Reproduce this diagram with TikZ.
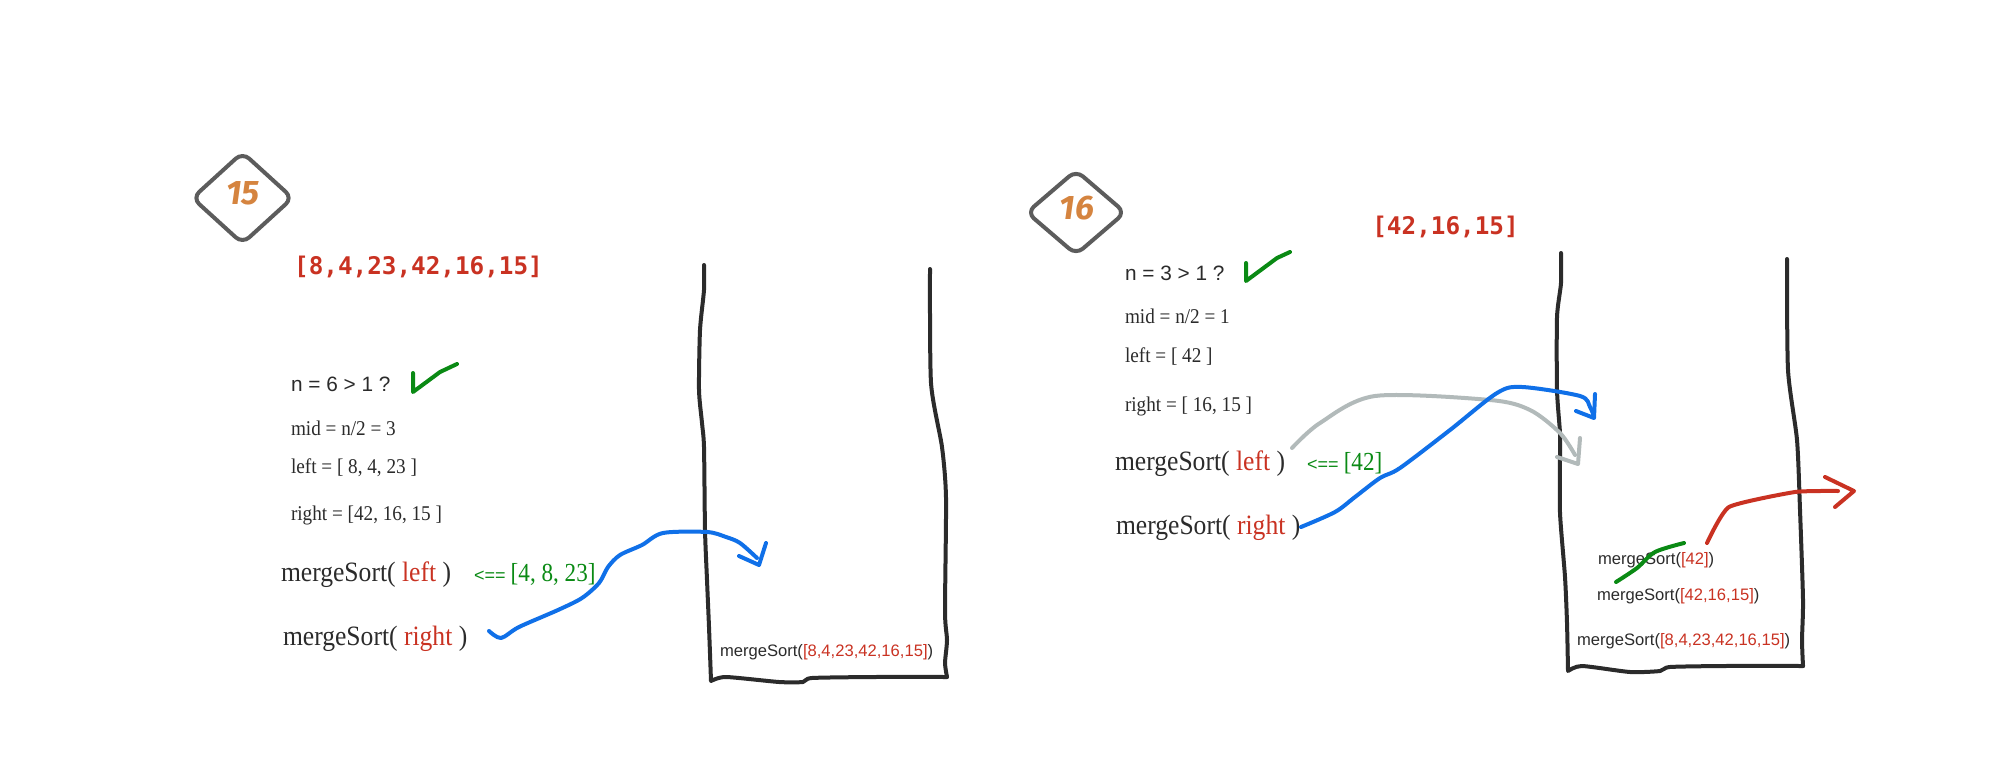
\documentclass[tikz,border=0pt]{standalone}
\usepackage{fontspec}
\setmainfont{Liberation Serif}[FakeStretch=0.914]
\setsansfont{Liberation Sans}
\setmonofont{DejaVu Sans Mono}
\newfontfamily\numfont{Fira Sans}
\newfontfamily\retfont{Liberation Serif}[FakeStretch=0.89]
\definecolor{ink}{HTML}{2B2B2B}
\definecolor{redtxt}{HTML}{C93222}
\definecolor{greenmk}{HTML}{0A8A14}
\definecolor{bluemk}{HTML}{1070E8}
\definecolor{greymk}{HTML}{B2BABA}
\definecolor{dia}{HTML}{5C5C5C}
\definecolor{orng}{HTML}{D5843F}
\newcommand{\rd}[1]{\textcolor{redtxt}{#1}}
\newcommand{\retarrow}{{\sffamily\fontsize{18}{20}\selectfont <==}\hspace{5pt}}
\tikzset{
  txt/.style={anchor=west,inner sep=0pt,outer sep=0pt,text=ink},
  calc/.style={txt,font=\fontsize{21}{24}\selectfont},
  quest/.style={txt,font=\sffamily\fontsize{20.8}{24}\selectfont},
  call/.style={txt,font=\fontsize{28}{32}\selectfont},
  ret/.style={anchor=west,inner sep=0pt,text=greenmk,font=\retfont\fontsize{26}{30}\selectfont},
  frame/.style={txt,font=\sffamily\fontsize{16.6}{19}\selectfont},
  title/.style={anchor=center,inner sep=0pt,text=redtxt,font=\ttfamily\bfseries\fontsize{24.3}{28}\selectfont},
  badge/.style={draw=dia,line width=4pt,rounded corners=9pt,line join=round},
  badgetxt/.style={anchor=center,inner sep=0pt,text=orng,font=\numfont\bfseries\itshape\fontsize{34}{36}\selectfont},
  wall/.style={draw=ink,line width=4pt,line cap=round,line join=round},
  pen/.style={line width=4pt,line cap=round,line join=round},
}
\begin{document}
\begin{tikzpicture}[x=1pt,y=-1pt]
\useasboundingbox (0,0) rectangle (2001,778);
% ---------- panel 15
\draw[badge] (242.5,152.5) -- (292.5,198) -- (242.5,243.5) -- (192.5,198) -- cycle;
\node[badgetxt] (n15) at (243,193) {15};
\node[title] (t15) at (418.5,267) {[8,4,23,42,16,15]};
\node[quest] (q15) at (291,384) {n = 6 > 1 ?};
\node[calc] (mid15) at (291,428) {mid = n/2 = 3};
\node[calc] (lf15) at (291,468) {left = [ 8, 4, 23 ]};
\node[calc] (rt15) at (291,515) {right = [42, 16, 15 ]};
\node[call] (ml15) at (281,575) {mergeSort( \rd{left} )};
\node[ret] (r15) at (474,574) {\retarrow[4, 8, 23]};
\node[call] (mr15) at (283,639) {mergeSort( \rd{right} )};
\node[frame] (f15) at (720,652) {mergeSort(\rd{[8,4,23,42,16,15]})};
\draw[pen,greenmk] (413,373) -- (413,392) -- (440,372) -- (457,364);
\draw[wall] plot[smooth,tension=0.4] coordinates {(704,265) (704,290) (700,330) (699,390) (702,423) (704,447) (705,530) (707,580) (709,627) (711,681)}
 -- plot[smooth,tension=0.4] coordinates {(711,681) (726,677) (779,682) (803,682) (812,678) (875,677) (947,677)};
\draw[wall] plot[smooth,tension=0.4] coordinates {(930,269) (931,383) (942,447) (946,498) (945,612) (947,640) (945,663) (947,677)};
\draw[pen,bluemk] plot[smooth,tension=0.5] coordinates {(489,631) (501,638) (519,627) (558,610) (582,598) (599,583) (608,567) (620,555) (642,545) (663,533) (707,532) (726,537) (740,543) (757,558)};
\draw[pen,bluemk] (739,556) -- (759,565) -- (766,543);
% ---------- panel 16
\draw[badge] (1076,170.5) -- (1125,212.5) -- (1076,254.5) -- (1027,212.5) -- cycle;
\node[badgetxt] (n16) at (1077,208) {16};
\node[title] (t16) at (1445.5,227) {[42,16,15]};
\node[quest] (q16) at (1125,273) {n = 3 > 1 ?};
\node[calc] (mid16) at (1125,316.5) {mid = n/2 = 1};
\node[calc] (lf16) at (1125,357) {left = [ 42 ]};
\node[calc] (rt16) at (1125,406) {right = [ 16, 15 ]};
\node[call] (ml16) at (1115,464) {mergeSort( \rd{left} )};
\node[ret] (r16) at (1307,463) {\retarrow[42]};
\node[call] (mr16) at (1116,528) {mergeSort( \rd{right} )};
\node[frame] (fa16) at (1598,560) {mergeSort(\rd{[42]})};
\node[frame] (fb16) at (1597,596) {mergeSort(\rd{[42,16,15]})};
\node[frame] (fc16) at (1577,641) {mergeSort(\rd{[8,4,23,42,16,15]})};
\draw[pen,greenmk] (1246,263) -- (1246,281) -- (1277,258) -- (1290,252);
\draw[wall] plot[smooth,tension=0.4] coordinates {(1561,253) (1561,283) (1557,317) (1557,390) (1560,433) (1560,453) (1560,513) (1565,577) (1567,623) (1568,671)}
 -- plot[smooth,tension=0.4] coordinates {(1568,671) (1582,666) (1630,672) (1660,671) (1670,667) (1725,666) (1803,666)};
\draw[wall] plot[smooth,tension=0.4] coordinates {(1787,259) (1788,370) (1797,440) (1800,510) (1803,600) (1802,640) (1803,666)};
\draw[pen,greymk] plot[smooth,tension=0.5] coordinates {(1292,448) (1320,423) (1375,396) (1490,400) (1530,410) (1560,433) (1575,455)};
\draw[pen,greymk] (1557,457) -- (1578,464) -- (1580,438);
\draw[pen,bluemk] plot[smooth,tension=0.5] coordinates {(1301,527) (1335,512) (1355,497) (1380,478) (1400,468) (1450,430) (1497,393) (1522,387) (1580,396) (1590,407) (1594,417)};
\draw[pen,bluemk] (1576,411) -- (1594,418) -- (1595,394);
\draw[pen,redtxt] plot[smooth,tension=0.3] coordinates {(1707,543) (1729,507) (1795,492) (1838,491)};
\draw[pen,redtxt] (1825,477) -- (1854,491) -- (1835,507);
\draw[pen,greenmk] plot[smooth,tension=0.5] coordinates {(1616,582) (1637,568) (1655,552) (1684,543)};
\end{tikzpicture}
\end{document}
